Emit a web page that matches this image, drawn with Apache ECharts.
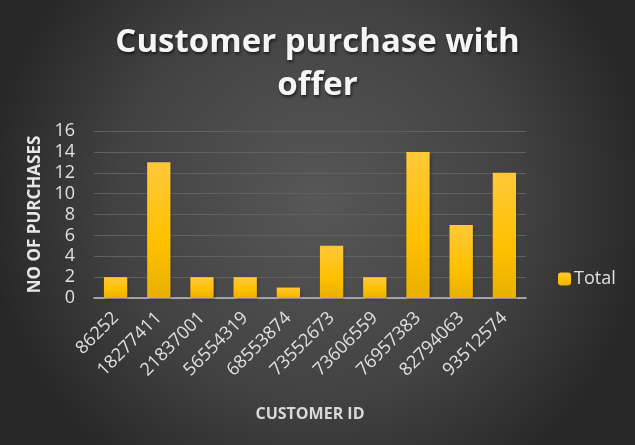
<!DOCTYPE html>
<html><head><meta charset="utf-8">
<script src="https://cdn.jsdelivr.net/npm/echarts@6/dist/echarts.min.js"></script>
<style>html,body{margin:0;padding:0;background:#333;}#c{width:635px;height:445px;}</style>
</head><body><div id="c"></div>
<script>
const categories = ["86252","18277411","21837001","56554319","68553874","73552673","73606559","76957383","82794063","93512574"];
const totals = [2,13,2,2,1,5,2,14,7,12];
const yTicks = [0,2,4,6,8,10,12,14,16];
const seriesName = "Total";

const chart = echarts.init(document.getElementById('c'), null, {renderer:'canvas'});
const FONT = '"Open Sans", Lato, sans-serif';
chart.setOption({
  animation:false,
  backgroundColor:{type:'radial',x:0.5,y:0.45,r:0.75,colorStops:[
    {offset:0,color:'#575757'},{offset:0.6,color:'#424242'},{offset:1,color:'#272727'}]},
  title:{text:'Customer purchase with\noffer',left:'center',top:16,
    textStyle:{color:'#f5f5f5',fontSize:33,fontWeight:'bold',fontFamily:FONT,lineHeight:43,
      textShadowColor:'rgba(0,0,0,0.6)',textShadowBlur:3,textShadowOffsetX:1,textShadowOffsetY:2}},
  legend:{data:[seriesName],left:553,top:265,orient:'vertical',itemWidth:13,itemHeight:13,itemGap:4,
    textStyle:{color:'#e0e0e0',fontSize:18,fontFamily:FONT,padding:[0,0,0,-2]}},
  grid:{left:94,right:109,top:131,bottom:147,containLabel:false},
  xAxis:{type:'category',data:categories,
    name:'CUSTOMER ID',nameLocation:'middle',nameGap:108,
    nameTextStyle:{color:'#d9d9d9',fontSize:16,fontWeight:'bold',fontFamily:FONT},
    axisLine:{lineStyle:{color:'#bfbfbf',width:1.5}},axisTick:{show:false},
    axisLabel:{rotate:45,color:'#e0e0e0',fontSize:18,fontFamily:FONT,margin:17,interval:0}},
  yAxis:{type:'value',min:0,max:16,interval:2,
    name:'NO OF PURCHASES',nameLocation:'middle',nameGap:49,
    nameTextStyle:{color:'#e6e6e6',fontSize:17,fontWeight:'bold',fontFamily:FONT},
    axisLine:{show:false},axisTick:{show:false},
    axisLabel:{color:'#e0e0e0',fontSize:18,fontFamily:FONT,margin:19,
      formatter:v=>yTicks.includes(v)?String(v):''},
    splitLine:{lineStyle:{color:'#606060',width:1}}},
  series:[{name:seriesName,type:'bar',data:totals,barWidth:'54%',
    itemStyle:{color:{type:'linear',x:0,y:0,x2:0,y2:1,colorStops:[
      {offset:0,color:'#ffc83a'},{offset:0.6,color:'#ffc000'},{offset:1,color:'#e8b000'}]},
      shadowColor:'rgba(0,0,0,0.35)',shadowBlur:3,shadowOffsetX:1,shadowOffsetY:1}}]
});
</script></body></html>
